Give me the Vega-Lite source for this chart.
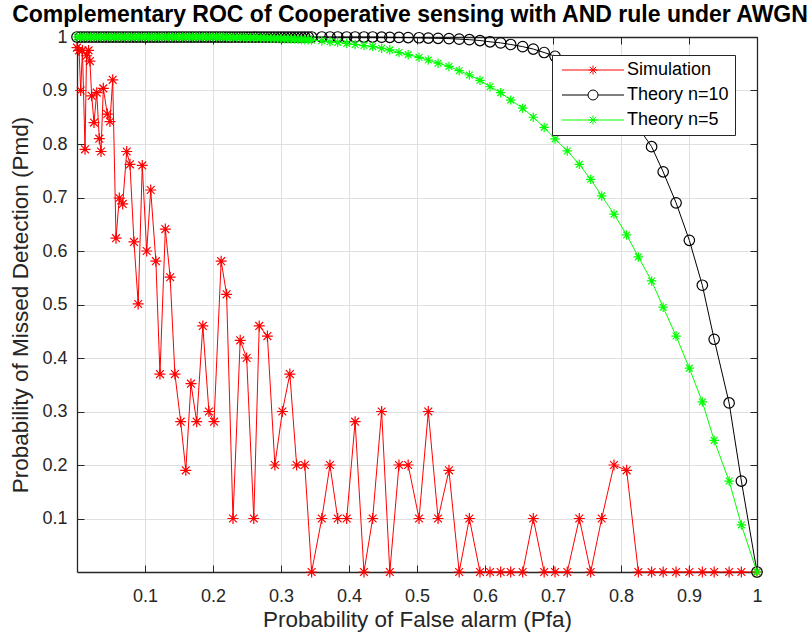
{
  "$schema": "https://vega.github.io/schema/vega-lite/v6.json",
  "width": 680,
  "height": 535,
  "autosize": {"type": "none"},
  "padding": {"left": 77, "top": 37, "right": 55, "bottom": 67},
  "background": "white",
  "title": {
    "text": "Complementary ROC of Cooperative sensing with AND rule under AWGN",
    "font": "Liberation Sans",
    "fontSize": 23,
    "fontWeight": "bold",
    "color": "#000000",
    "anchor": "middle",
    "frame": "group",
    "baseline": "alphabetic",
    "offset": -17,
    "dx": -7
  },
  "config": {
    "font": "Liberation Sans",
    "view": {"stroke": null},
    "axis": {
      "labelFont": "Liberation Sans",
      "titleFont": "Liberation Sans",
      "labelColor": "#262626",
      "titleColor": "#262626",
      "domainColor": "#262626",
      "tickColor": "#262626",
      "gridColor": "#dfdfdf",
      "gridWidth": 1,
      "domainWidth": 1.3,
      "tickWidth": 1,
      "titleFontWeight": "normal"
    }
  },
  "resolve": {"axis": {"x": "independent", "y": "independent"}},
  "datasets": {
    "sim": [
      {"s":"Simulation","x":0.000,"y":0.98},{"s":"Simulation","x":0.003,"y":0.975},{"s":"Simulation","x":0.0054,"y":0.90},{"s":"Simulation","x":0.008,"y":0.975},{"s":"Simulation","x":0.0118,"y":0.79},{"s":"Simulation","x":0.014,"y":0.965},{"s":"Simulation","x":0.017,"y":0.975},{"s":"Simulation","x":0.019,"y":0.955},{"s":"Simulation","x":0.0216,"y":0.89},{"s":"Simulation","x":0.025,"y":0.84},{"s":"Simulation","x":0.029,"y":0.896},{"s":"Simulation","x":0.0328,"y":0.81},{"s":"Simulation","x":0.0353,"y":0.786},{"s":"Simulation","x":0.0387,"y":0.904},{"s":"Simulation","x":0.0446,"y":0.856},{"s":"Simulation","x":0.0485,"y":0.842},{"s":"Simulation","x":0.0525,"y":0.92},{"s":"Simulation","x":0.0574,"y":0.624},{"s":"Simulation","x":0.0622,"y":0.699},{"s":"Simulation","x":0.0672,"y":0.688},{"s":"Simulation","x":0.0731,"y":0.786},{"s":"Simulation","x":0.0779,"y":0.762},{"s":"Simulation","x":0.0838,"y":0.617},{"s":"Simulation","x":0.090,"y":0.501},{"s":"Simulation","x":0.096,"y":0.760},{"s":"Simulation","x":0.1025,"y":0.60},{"s":"Simulation","x":0.1084,"y":0.714},{"s":"Simulation","x":0.116,"y":0.581},{"s":"Simulation","x":0.122,"y":0.370},{"s":"Simulation","x":0.1299,"y":0.641},{"s":"Simulation","x":0.137,"y":0.551},{"s":"Simulation","x":0.144,"y":0.370},{"s":"Simulation","x":0.1525,"y":0.281},{"s":"Simulation","x":0.160,"y":0.190},{"s":"Simulation","x":0.1676,"y":0.352},{"s":"Simulation","x":0.176,"y":0.281},{"s":"Simulation","x":0.185,"y":0.460},{"s":"Simulation","x":0.194,"y":0.300},{"s":"Simulation","x":0.2015,"y":0.281},{"s":"Simulation","x":0.212,"y":0.581},{"s":"Simulation","x":0.220,"y":0.519},{"s":"Simulation","x":0.2294,"y":0.100},{"s":"Simulation","x":0.240,"y":0.433},{"s":"Simulation","x":0.2495,"y":0.400},{"s":"Simulation","x":0.260,"y":0.100},{"s":"Simulation","x":0.268,"y":0.460},{"s":"Simulation","x":0.280,"y":0.441},{"s":"Simulation","x":0.291,"y":0.200},{"s":"Simulation","x":0.302,"y":0.300},{"s":"Simulation","x":0.313,"y":0.370},{"s":"Simulation","x":0.323,"y":0.200},{"s":"Simulation","x":0.335,"y":0.200},{"s":"Simulation","x":0.345,"y":0},{"s":"Simulation","x":0.360,"y":0.1},{"s":"Simulation","x":0.372,"y":0.2},{"s":"Simulation","x":0.3834,"y":0.1},{"s":"Simulation","x":0.3966,"y":0.1},{"s":"Simulation","x":0.409,"y":0.281},{"s":"Simulation","x":0.422,"y":0},{"s":"Simulation","x":0.4348,"y":0.1},{"s":"Simulation","x":0.448,"y":0.300},{"s":"Simulation","x":0.460,"y":0},{"s":"Simulation","x":0.4735,"y":0.2},{"s":"Simulation","x":0.487,"y":0.2},{"s":"Simulation","x":0.503,"y":0.1},{"s":"Simulation","x":0.5166,"y":0.3},{"s":"Simulation","x":0.531,"y":0.1},{"s":"Simulation","x":0.547,"y":0.19},{"s":"Simulation","x":0.562,"y":0},{"s":"Simulation","x":0.577,"y":0.1},{"s":"Simulation","x":0.5926,"y":0},{"s":"Simulation","x":0.6074,"y":0},{"s":"Simulation","x":0.623,"y":0},{"s":"Simulation","x":0.6378,"y":0},{"s":"Simulation","x":0.6554,"y":0},{"s":"Simulation","x":0.671,"y":0.1},{"s":"Simulation","x":0.687,"y":0},{"s":"Simulation","x":0.703,"y":0},{"s":"Simulation","x":0.721,"y":0},{"s":"Simulation","x":0.7387,"y":0.1},{"s":"Simulation","x":0.7554,"y":0},{"s":"Simulation","x":0.7716,"y":0.1},{"s":"Simulation","x":0.7897,"y":0.2},{"s":"Simulation","x":0.8083,"y":0.19},{"s":"Simulation","x":0.8255,"y":0},{"s":"Simulation","x":0.845,"y":0},{"s":"Simulation","x":0.862,"y":0},{"s":"Simulation","x":0.881,"y":0},{"s":"Simulation","x":0.9005,"y":0},{"s":"Simulation","x":0.9196,"y":0},{"s":"Simulation","x":0.937,"y":0},{"s":"Simulation","x":0.959,"y":0},{"s":"Simulation","x":0.977,"y":0},{"s":"Simulation","x":1,"y":0}
    ],
    "t10": [
      {"s":"Theory n=10","x":0.000,"y":1},{"s":"Theory n=10","x":0.005,"y":1},{"s":"Theory n=10","x":0.010,"y":1},{"s":"Theory n=10","x":0.015,"y":1},{"s":"Theory n=10","x":0.020,"y":1},{"s":"Theory n=10","x":0.025,"y":1},{"s":"Theory n=10","x":0.030,"y":1},{"s":"Theory n=10","x":0.035,"y":1},{"s":"Theory n=10","x":0.040,"y":1},{"s":"Theory n=10","x":0.045,"y":1},{"s":"Theory n=10","x":0.050,"y":1},{"s":"Theory n=10","x":0.055,"y":1},{"s":"Theory n=10","x":0.060,"y":1},{"s":"Theory n=10","x":0.065,"y":1},{"s":"Theory n=10","x":0.070,"y":1},{"s":"Theory n=10","x":0.075,"y":1},{"s":"Theory n=10","x":0.080,"y":1},{"s":"Theory n=10","x":0.085,"y":1},{"s":"Theory n=10","x":0.090,"y":1},{"s":"Theory n=10","x":0.095,"y":1},{"s":"Theory n=10","x":0.100,"y":1},{"s":"Theory n=10","x":0.105,"y":1},{"s":"Theory n=10","x":0.110,"y":1},{"s":"Theory n=10","x":0.115,"y":1},{"s":"Theory n=10","x":0.120,"y":1},{"s":"Theory n=10","x":0.125,"y":1},{"s":"Theory n=10","x":0.130,"y":1},{"s":"Theory n=10","x":0.135,"y":1},{"s":"Theory n=10","x":0.140,"y":1},{"s":"Theory n=10","x":0.145,"y":1},{"s":"Theory n=10","x":0.150,"y":1},{"s":"Theory n=10","x":0.155,"y":1},{"s":"Theory n=10","x":0.160,"y":1},{"s":"Theory n=10","x":0.165,"y":1},{"s":"Theory n=10","x":0.170,"y":1},{"s":"Theory n=10","x":0.175,"y":1},{"s":"Theory n=10","x":0.180,"y":1},{"s":"Theory n=10","x":0.185,"y":1},{"s":"Theory n=10","x":0.190,"y":1},{"s":"Theory n=10","x":0.195,"y":1},{"s":"Theory n=10","x":0.200,"y":1},{"s":"Theory n=10","x":0.205,"y":1},{"s":"Theory n=10","x":0.210,"y":1},{"s":"Theory n=10","x":0.215,"y":1},{"s":"Theory n=10","x":0.220,"y":1},{"s":"Theory n=10","x":0.225,"y":1},{"s":"Theory n=10","x":0.230,"y":1},{"s":"Theory n=10","x":0.235,"y":1},{"s":"Theory n=10","x":0.240,"y":1},{"s":"Theory n=10","x":0.245,"y":1},{"s":"Theory n=10","x":0.250,"y":1},{"s":"Theory n=10","x":0.255,"y":1},{"s":"Theory n=10","x":0.260,"y":1},{"s":"Theory n=10","x":0.265,"y":1},{"s":"Theory n=10","x":0.270,"y":1},{"s":"Theory n=10","x":0.275,"y":1},{"s":"Theory n=10","x":0.280,"y":1},{"s":"Theory n=10","x":0.285,"y":1},{"s":"Theory n=10","x":0.290,"y":1},{"s":"Theory n=10","x":0.295,"y":1},{"s":"Theory n=10","x":0.300,"y":1},{"s":"Theory n=10","x":0.305,"y":1},{"s":"Theory n=10","x":0.310,"y":1},{"s":"Theory n=10","x":0.315,"y":1},{"s":"Theory n=10","x":0.320,"y":1},{"s":"Theory n=10","x":0.325,"y":1},{"s":"Theory n=10","x":0.330,"y":1},{"s":"Theory n=10","x":0.335,"y":1},{"s":"Theory n=10","x":0.340,"y":1},{"s":"Theory n=10","x":0.345,"y":1},{"s":"Theory n=10","x":0.360,"y":1},{"s":"Theory n=10","x":0.372,"y":1},{"s":"Theory n=10","x":0.3834,"y":1},{"s":"Theory n=10","x":0.3966,"y":1},{"s":"Theory n=10","x":0.409,"y":1},{"s":"Theory n=10","x":0.422,"y":1},{"s":"Theory n=10","x":0.4348,"y":1},{"s":"Theory n=10","x":0.448,"y":0.9996},{"s":"Theory n=10","x":0.460,"y":0.9994},{"s":"Theory n=10","x":0.4735,"y":0.9992},{"s":"Theory n=10","x":0.487,"y":0.999},{"s":"Theory n=10","x":0.503,"y":0.9986},{"s":"Theory n=10","x":0.5166,"y":0.998},{"s":"Theory n=10","x":0.531,"y":0.9976},{"s":"Theory n=10","x":0.547,"y":0.997},{"s":"Theory n=10","x":0.562,"y":0.996},{"s":"Theory n=10","x":0.577,"y":0.995},{"s":"Theory n=10","x":0.5926,"y":0.9934},{"s":"Theory n=10","x":0.6074,"y":0.991},{"s":"Theory n=10","x":0.623,"y":0.989},{"s":"Theory n=10","x":0.6378,"y":0.986},{"s":"Theory n=10","x":0.6554,"y":0.982},{"s":"Theory n=10","x":0.671,"y":0.9775},{"s":"Theory n=10","x":0.687,"y":0.971},{"s":"Theory n=10","x":0.703,"y":0.964},{"s":"Theory n=10","x":0.721,"y":0.955},{"s":"Theory n=10","x":0.7387,"y":0.943},{"s":"Theory n=10","x":0.7554,"y":0.929},{"s":"Theory n=10","x":0.7716,"y":0.912},{"s":"Theory n=10","x":0.7897,"y":0.890},{"s":"Theory n=10","x":0.8083,"y":0.863},{"s":"Theory n=10","x":0.8255,"y":0.831},{"s":"Theory n=10","x":0.845,"y":0.795},{"s":"Theory n=10","x":0.862,"y":0.748},{"s":"Theory n=10","x":0.881,"y":0.690},{"s":"Theory n=10","x":0.9005,"y":0.620},{"s":"Theory n=10","x":0.9196,"y":0.536},{"s":"Theory n=10","x":0.937,"y":0.435},{"s":"Theory n=10","x":0.959,"y":0.316},{"s":"Theory n=10","x":0.977,"y":0.170},{"s":"Theory n=10","x":1,"y":0}
    ],
    "t5": [
      {"s":"Theory n=5","x":0.000,"y":1},{"s":"Theory n=5","x":0.005,"y":1},{"s":"Theory n=5","x":0.010,"y":1},{"s":"Theory n=5","x":0.015,"y":1},{"s":"Theory n=5","x":0.020,"y":1},{"s":"Theory n=5","x":0.025,"y":1},{"s":"Theory n=5","x":0.030,"y":1},{"s":"Theory n=5","x":0.035,"y":1},{"s":"Theory n=5","x":0.040,"y":1},{"s":"Theory n=5","x":0.045,"y":1},{"s":"Theory n=5","x":0.050,"y":1},{"s":"Theory n=5","x":0.055,"y":1},{"s":"Theory n=5","x":0.060,"y":1},{"s":"Theory n=5","x":0.065,"y":1},{"s":"Theory n=5","x":0.070,"y":1},{"s":"Theory n=5","x":0.075,"y":1},{"s":"Theory n=5","x":0.080,"y":1},{"s":"Theory n=5","x":0.085,"y":1},{"s":"Theory n=5","x":0.090,"y":1},{"s":"Theory n=5","x":0.095,"y":1},{"s":"Theory n=5","x":0.100,"y":1},{"s":"Theory n=5","x":0.105,"y":1},{"s":"Theory n=5","x":0.110,"y":1},{"s":"Theory n=5","x":0.115,"y":1},{"s":"Theory n=5","x":0.120,"y":1},{"s":"Theory n=5","x":0.125,"y":1},{"s":"Theory n=5","x":0.130,"y":1},{"s":"Theory n=5","x":0.135,"y":1},{"s":"Theory n=5","x":0.140,"y":1},{"s":"Theory n=5","x":0.145,"y":1},{"s":"Theory n=5","x":0.150,"y":1},{"s":"Theory n=5","x":0.155,"y":1},{"s":"Theory n=5","x":0.160,"y":1},{"s":"Theory n=5","x":0.165,"y":1},{"s":"Theory n=5","x":0.170,"y":1},{"s":"Theory n=5","x":0.175,"y":1},{"s":"Theory n=5","x":0.180,"y":1},{"s":"Theory n=5","x":0.185,"y":1},{"s":"Theory n=5","x":0.190,"y":1},{"s":"Theory n=5","x":0.195,"y":1},{"s":"Theory n=5","x":0.200,"y":1},{"s":"Theory n=5","x":0.205,"y":1},{"s":"Theory n=5","x":0.210,"y":1},{"s":"Theory n=5","x":0.215,"y":1},{"s":"Theory n=5","x":0.220,"y":0.9994},{"s":"Theory n=5","x":0.225,"y":0.9993},{"s":"Theory n=5","x":0.230,"y":0.9992},{"s":"Theory n=5","x":0.235,"y":0.9991},{"s":"Theory n=5","x":0.240,"y":0.999},{"s":"Theory n=5","x":0.245,"y":0.9989},{"s":"Theory n=5","x":0.250,"y":0.9988},{"s":"Theory n=5","x":0.255,"y":0.9987},{"s":"Theory n=5","x":0.260,"y":0.9986},{"s":"Theory n=5","x":0.265,"y":0.9984},{"s":"Theory n=5","x":0.270,"y":0.9983},{"s":"Theory n=5","x":0.275,"y":0.9981},{"s":"Theory n=5","x":0.280,"y":0.998},{"s":"Theory n=5","x":0.285,"y":0.9978},{"s":"Theory n=5","x":0.290,"y":0.9975},{"s":"Theory n=5","x":0.295,"y":0.9974},{"s":"Theory n=5","x":0.300,"y":0.9972},{"s":"Theory n=5","x":0.305,"y":0.9969},{"s":"Theory n=5","x":0.310,"y":0.9967},{"s":"Theory n=5","x":0.315,"y":0.9964},{"s":"Theory n=5","x":0.320,"y":0.9961},{"s":"Theory n=5","x":0.325,"y":0.9958},{"s":"Theory n=5","x":0.330,"y":0.9955},{"s":"Theory n=5","x":0.335,"y":0.9951},{"s":"Theory n=5","x":0.340,"y":0.9947},{"s":"Theory n=5","x":0.345,"y":0.9944},{"s":"Theory n=5","x":0.360,"y":0.993},{"s":"Theory n=5","x":0.372,"y":0.991},{"s":"Theory n=5","x":0.3834,"y":0.99},{"s":"Theory n=5","x":0.3966,"y":0.988},{"s":"Theory n=5","x":0.409,"y":0.986},{"s":"Theory n=5","x":0.422,"y":0.984},{"s":"Theory n=5","x":0.4348,"y":0.982},{"s":"Theory n=5","x":0.448,"y":0.979},{"s":"Theory n=5","x":0.460,"y":0.976},{"s":"Theory n=5","x":0.4735,"y":0.971},{"s":"Theory n=5","x":0.487,"y":0.967},{"s":"Theory n=5","x":0.503,"y":0.962},{"s":"Theory n=5","x":0.5166,"y":0.957},{"s":"Theory n=5","x":0.531,"y":0.951},{"s":"Theory n=5","x":0.547,"y":0.945},{"s":"Theory n=5","x":0.562,"y":0.937},{"s":"Theory n=5","x":0.577,"y":0.929},{"s":"Theory n=5","x":0.5926,"y":0.919},{"s":"Theory n=5","x":0.6074,"y":0.907},{"s":"Theory n=5","x":0.623,"y":0.896},{"s":"Theory n=5","x":0.6378,"y":0.882},{"s":"Theory n=5","x":0.6554,"y":0.867},{"s":"Theory n=5","x":0.671,"y":0.850},{"s":"Theory n=5","x":0.687,"y":0.831},{"s":"Theory n=5","x":0.703,"y":0.8095},{"s":"Theory n=5","x":0.721,"y":0.787},{"s":"Theory n=5","x":0.7387,"y":0.762},{"s":"Theory n=5","x":0.7554,"y":0.734},{"s":"Theory n=5","x":0.7716,"y":0.703},{"s":"Theory n=5","x":0.7897,"y":0.669},{"s":"Theory n=5","x":0.8083,"y":0.630},{"s":"Theory n=5","x":0.8255,"y":0.589},{"s":"Theory n=5","x":0.845,"y":0.544},{"s":"Theory n=5","x":0.862,"y":0.495},{"s":"Theory n=5","x":0.881,"y":0.441},{"s":"Theory n=5","x":0.9005,"y":0.381},{"s":"Theory n=5","x":0.9196,"y":0.318},{"s":"Theory n=5","x":0.937,"y":0.246},{"s":"Theory n=5","x":0.959,"y":0.170},{"s":"Theory n=5","x":0.977,"y":0.088},{"s":"Theory n=5","x":1,"y":0}
    ]
  },
  "layer": [
    {
      "data": {"name": "sim"},
      "mark": {"type": "line", "color": "#ff0000", "strokeWidth": 1},
      "encoding": {
        "x": {"field": "x", "type": "quantitative", "scale": {"domain": [0, 1], "nice": false, "zero": false},
          "axis": {"orient": "bottom", "values": [0.1,0.2,0.3,0.4,0.5,0.6,0.7,0.8,0.9,1], "format": "~g", "grid": true, "tickSize": -7, "labelPadding": 22, "labelFontSize": 18, "labelFlush": false, "labelOverlap": false,
            "title": "Probability of False alarm (Pfa)", "titleFontSize": 22.5, "titleX": 340, "titleY": 54, "titleBaseline": "alphabetic", "titleAlign": "center"}},
        "y": {"field": "y", "type": "quantitative", "scale": {"domain": [0, 1], "nice": false, "zero": false},
          "axis": {"orient": "left", "values": [0.1,0.2,0.3,0.4,0.5,0.6,0.7,0.8,0.9,1], "format": "~g", "grid": true, "tickSize": -7, "labelPadding": 17, "labelFontSize": 18, "labelFlush": false, "labelOverlap": false,
            "title": "Probability of Missed Detection (Pmd)", "titleFontSize": 22.5, "titleX": -50, "titleY": 267.5, "titleAngle": 270, "titleBaseline": "alphabetic", "titleAlign": "center"}}
      }
    },
    {
      "data": {"name": "sim"},
      "mark": {"type": "point", "filled": false, "color": "#ff0000", "strokeWidth": 1.2, "size": 121, "opacity": 1, "shape": "M-1,0L1,0M0,-1L0,1M-0.71,-0.71L0.71,0.71M-0.71,0.71L0.71,-0.71"},
      "encoding": {
        "x": {"field": "x", "type": "quantitative", "scale": {"domain": [0, 1], "nice": false, "zero": false},
          "axis": {"orient": "top", "values": [0.1,0.2,0.3,0.4,0.5,0.6,0.7,0.8,0.9,1], "labels": false, "grid": false, "tickSize": -7, "title": null}},
        "y": {"field": "y", "type": "quantitative", "scale": {"domain": [0, 1], "nice": false, "zero": false},
          "axis": {"orient": "right", "values": [0.1,0.2,0.3,0.4,0.5,0.6,0.7,0.8,0.9,1], "labels": false, "grid": false, "tickSize": -7, "title": null}}
      }
    },
    {
      "data": {"name": "t10"},
      "mark": {"type": "line", "color": "#000000", "strokeWidth": 1},
      "encoding": {
        "x": {"field": "x", "type": "quantitative", "scale": {"domain": [0, 1], "nice": false, "zero": false}, "axis": null},
        "y": {"field": "y", "type": "quantitative", "scale": {"domain": [0, 1], "nice": false, "zero": false}, "axis": null}
      }
    },
    {
      "data": {"name": "t10"},
      "mark": {"type": "point", "filled": false, "color": "#000000", "strokeWidth": 1.2, "size": 110, "opacity": 1, "shape": "circle"},
      "encoding": {
        "x": {"field": "x", "type": "quantitative", "scale": {"domain": [0, 1], "nice": false, "zero": false}, "axis": null},
        "y": {"field": "y", "type": "quantitative", "scale": {"domain": [0, 1], "nice": false, "zero": false}, "axis": null}
      }
    },
    {
      "data": {"name": "t5"},
      "mark": {"type": "line", "color": "#00ff00", "strokeWidth": 1},
      "encoding": {
        "x": {"field": "x", "type": "quantitative", "scale": {"domain": [0, 1], "nice": false, "zero": false}, "axis": null},
        "y": {"field": "y", "type": "quantitative", "scale": {"domain": [0, 1], "nice": false, "zero": false}, "axis": null}
      }
    },
    {
      "data": {"name": "t5"},
      "mark": {"type": "point", "filled": false, "color": "#00ff00", "strokeWidth": 1.2, "size": 90, "opacity": 1, "shape": "M-1,0L1,0M0,-1L0,1M-0.71,-0.71L0.71,0.71M-0.71,0.71L0.71,-0.71"},
      "encoding": {
        "x": {"field": "x", "type": "quantitative", "scale": {"domain": [0, 1], "nice": false, "zero": false}, "axis": null},
        "y": {"field": "y", "type": "quantitative", "scale": {"domain": [0, 1], "nice": false, "zero": false}, "axis": null}
      }
    },
    {
      "data": {"name": "t5"},
      "mark": {"type": "point", "filled": false, "strokeWidth": 1, "size": 100, "opacity": 0},
      "encoding": {
        "x": {"field": "x", "type": "quantitative", "scale": {"domain": [0, 1], "nice": false, "zero": false}, "axis": null},
        "y": {"field": "y", "type": "quantitative", "scale": {"domain": [0, 1], "nice": false, "zero": false}, "axis": null},
        "color": {"field": "s", "type": "nominal",
          "scale": {"domain": ["Simulation", "Theory n=10", "Theory n=5"], "range": ["#ff0000", "#000000", "#00ff00"]},
          "legend": {"orient": "none", "legendX": 475, "legendY": 18, "title": null, "padding": 6, "rowPadding": 7, "symbolSize": 100, "symbolOffset": 26, "labelOffset": 25, "labelFontSize": 18, "labelFont": "Liberation Sans", "labelColor": "#000000", "fillColor": "#ffffff", "strokeColor": "#262626", "cornerRadius": 0, "symbolStrokeWidth": 1, "symbolOpacity": 1}},
        "shape": {"field": "s", "type": "nominal",
          "scale": {"domain": ["Simulation", "Theory n=10", "Theory n=5"], "range": ["M-6.2,0L6.2,0M-0.9,0L0.9,0M0,-0.9L0,0.9M-0.64,-0.64L0.64,0.64M-0.64,0.64L0.64,-0.64", "M-6.2,0L-1,0M1,0L6.2,0M-1,0A1,1,0,1,0,1,0A1,1,0,1,0,-1,0", "M-6.2,0L6.2,0M-0.9,0L0.9,0M0,-0.9L0,0.9M-0.64,-0.64L0.64,0.64M-0.64,0.64L0.64,-0.64"]},
          "legend": {"orient": "none", "legendX": 475, "legendY": 18, "title": null, "padding": 6, "rowPadding": 7, "symbolSize": 100, "symbolOffset": 26, "labelOffset": 25, "labelFontSize": 18, "labelFont": "Liberation Sans", "labelColor": "#000000", "fillColor": "#ffffff", "strokeColor": "#262626", "cornerRadius": 0, "symbolStrokeWidth": 1, "symbolOpacity": 1}}
      }
    }
  ]
}
